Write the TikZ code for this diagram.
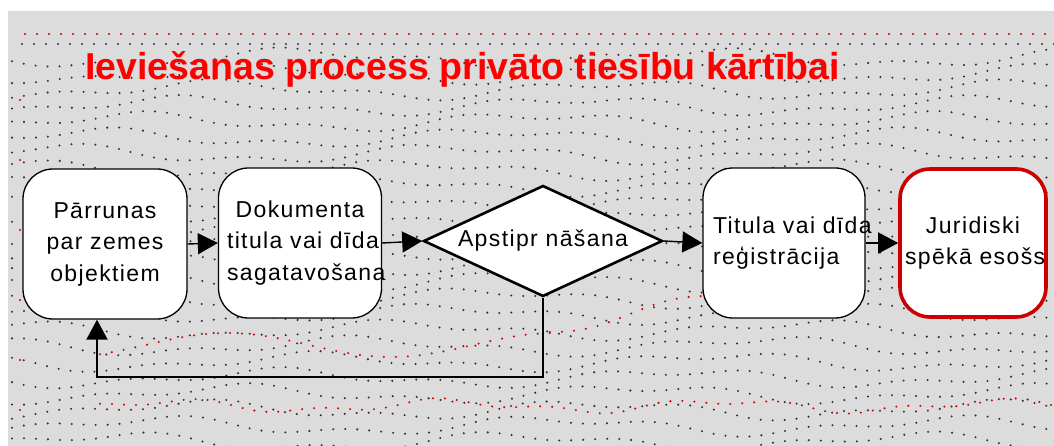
\documentclass[tikz,border=0pt]{standalone}
\usepackage{fontspec}
\setmainfont{Liberation Sans}
\newfontfamily\nodefont[LetterSpace=6]{Liberation Sans}
\usetikzlibrary{shapes.geometric,arrows.meta}
\definecolor{bggray}{HTML}{DCDCDC}
\definecolor{boxred}{HTML}{CC0000}
\definecolor{titlered}{HTML}{FF0000}
\begin{document}
\begin{tikzpicture}[x=1pt,y=-1pt,
  dots/.style={line width=2.3pt, line cap=round, dash pattern=on 0pt off 12pt, black!80},
  reddots/.style={dots, red!85!black},
  box/.style={draw, line width=1.3pt, fill=white, rounded corners=30pt,
    minimum width=164pt, minimum height=150pt, inner sep=0pt, align=center, text width=146pt,
    font={\nodefont\fontsize{23}{31.5}\selectfont}},
  decision/.style={diamond, draw, line width=2.6pt, fill=white, inner sep=0pt,
    minimum width=239pt, minimum height=111pt, shape aspect=2.15,
    font={\nodefont\fontsize{23}{31.5}\selectfont}},
  flow/.style={line width=1.4pt, -{Triangle[length=20pt,width=21pt]}},
  titlestyle/.style={text=titlered, font={\bfseries\fontsize{37.5}{40}\selectfont}, inner sep=0pt}]
\useasboundingbox (0,0) rectangle (1054,446);
\fill[bggray] (8,11) rectangle (1054,446);
% dotted background texture
\draw[reddots] (25,34) -- (1054,34);
\draw[dots] (22,44) -- (1054,44);
\foreach \k in {0,...,24}{
  \pgfmathsetmacro\yy{58+16*\k}
  \draw[dots] plot[domain=12:1054,samples=110] (\x,{\yy+7*sin(0.9*\x+37*\k)+4*sin(2.3*\x+71*\k)});
}
\draw[reddots] plot[domain=100:560,samples=60] (\x,{345+12*sin(1.1*\x+20)});
\draw[reddots] plot[domain=550:840,samples=50] (\x,{330-0.2*(\x-550)+6*sin(2*\x)});
\draw[reddots] plot[domain=100:1054,samples=110] (\x,{406+5*sin(1.3*\x+50)+3*sin(3.1*\x)});
\foreach \yy in {100,160,230,300,360,410} \fill[red!85!black] (20,\yy) circle (1.1pt);
% title
\node[titlestyle, anchor=base west] (title) at (85,80) {Ieviešanas process privāto tiesību kārtībai};
% nodes
\node[box] (n1) at (105,244) {\mbox{Pārrunas}\\\mbox{par zemes}\\\mbox{objektiem}};
\node[box, minimum width=163pt] (n2) at (300,243) {\mbox{Dokumenta}\\\mbox{titula vai dīda}\\\mbox{sagatavošana}};
\node[decision] (d) at (543,241) {Apstipr nāšana};
\node[box, minimum width=162pt, text width=150pt, align=left] (n4) at (784,243) {\hspace*{4pt}\mbox{Titula vai dīda}\\\hspace*{4pt}\mbox{reģistrācija}};
\node[box, draw=boxred, line width=3.6pt, minimum width=146pt, minimum height=148pt, text width=136pt] (n5) at (973,243) {\mbox{Juridiski}\\\mbox{spēkā esošs}};
% connectors
\draw[flow] (n1.east) -- (n2.west);
\draw[flow] (n2.east) -- (d.west);
\draw[flow] (d.east) -- (n4.west);
\draw[flow] (n4.east) -- (n5.west);
\coordinate (fb) at (97,377);
\draw[line width=2pt, -{Triangle[length=20pt,width=21pt]}] (d.south) |- (fb) -- (fb |- n1.south);
\end{tikzpicture}
\end{document}
